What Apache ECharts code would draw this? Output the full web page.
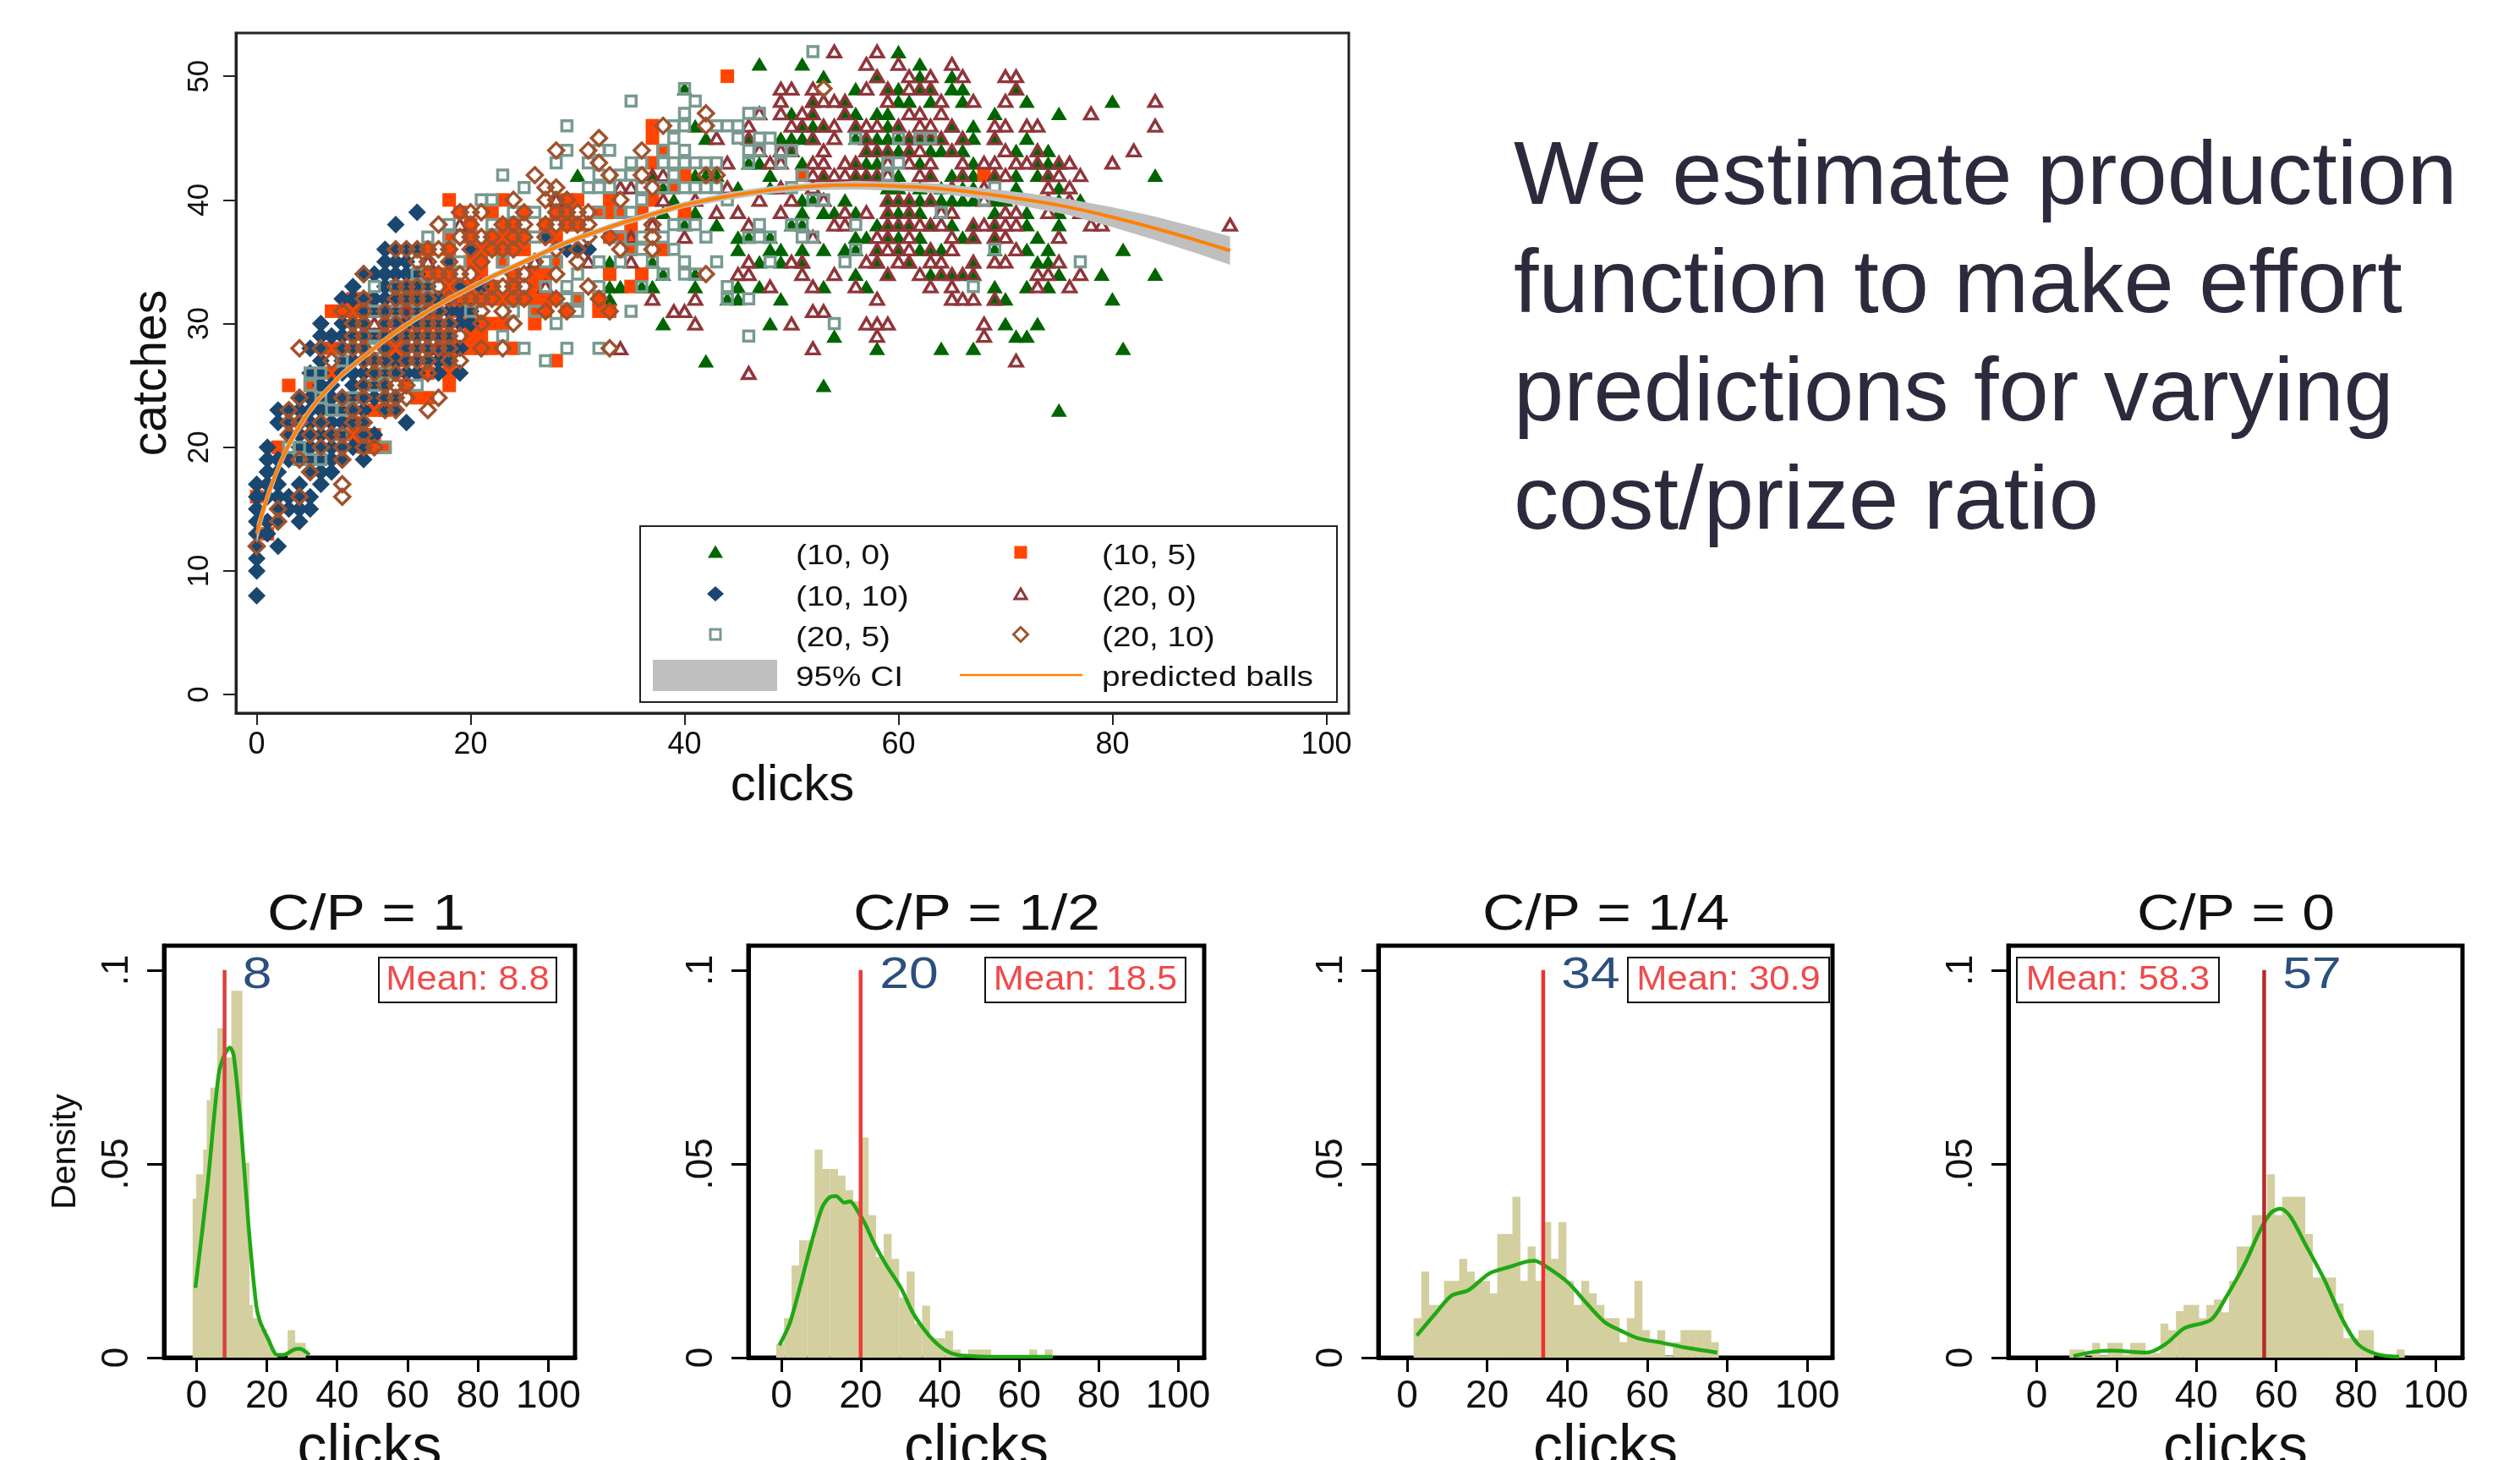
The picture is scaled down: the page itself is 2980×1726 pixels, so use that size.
<!DOCTYPE html>
<html>
<head>
<meta charset="utf-8">
<style>html,body{margin:0;padding:0;background:#fff}#c{width:2980px;height:1726px}</style>
<script src="https://cdn.jsdelivr.net/npm/echarts@6/dist/echarts.min.js"></script>
</head>
<body>
<div id="c"></div>
<script>
// Scatter data: each row is [catches, clicks, clicks, ...]
const rowsGreen = [
[52,60],[51,47,51,62],[50,53,58,62,65],[49,40,56,59,60,62,63,65,66,71],[48,52,55,60,61,63,66,72,80],
[47,50,52,55,56,58,59,69,75],[46,41,51,52,53,56,59,60,65,67],[45,42,46,49,50,51,52,56,57,58,59,60,61,62,63,64,66,67,69,72],
[44,50,57,58,59,60,61,63,64,65,66,71,73,74],[43,46,47,51,56,57,58,62,67,73,74,75],
[42,30,37,41,42,43,48,53,56,57,58,60,63,65,66,67,69,71,73,74,84],[41,38,45,48,59,60,62,64,66,67,71,75],
[40,39,51,52,55,59,60,61,62,63,64,65,66,67,69,70,75,77],[39,38,40,41,51,53,54,56,59,60,61,62,69,72,75],
[38,40,43,50,51,58,59,60,61,63,65,67,69,72,75],[37,45,46,48,56,57,59,60,62,66,67,69,73],
[36,45,48,49,51,53,55,56,58,60,62,63,64,69,72,74,81],[35,33,37,47,49,51,58,61,67,73,74],
[34,38,41,56,59,63,64,65,66,67,75,79,84],[33,33,34,36,37,41,45,47,53,57,69,72,74],[32,33,44,45,49,69,70,80],
[30,38,48,70,73],[29,54,71,72],[28,58,64,67,81],[27,42],[25,53],[23,75]
];
const rowsOrange = [
[50,44],[46,37],[45,37],[44,38],[43,37],[42,40,51,68],[41,39],[40,18,23,29,30,33,37],[39,19,22,25,28,29,32,33,34,36,40],
[38,20,23,24,27,29,30,35],[37,18,20,22,23,24,25,28,33,34,35],[36,16,18,21,22,23,24,25,35,38],[35,20,21,23,28],
[34,16,17,18,21,24,26,27,33,36],[33,15,16,18,19,20,22,24,26,35],[32,9,10,14,15,16,17,18,19,20,21,22,23,24,25,26,27,28,30,32],
[31,7,8,9,10,11,12,16,19,26,27,29,32,33],[30,14,15,16,20,21,22,23,26],[29,11,13,18,20,21],[28,7,13,18,19,20,21,22,24],
[27,13,18,28],[26,7,16,18],[25,3,5,14,18],[24,15,16],[23,11,12],[22,9],[21,9,10,11],[20,2,10,11,12],[16,0],[13,1]
];
const rowsNavy = [
[39,15],[38,13],[37,27],[36,12,13,14,15,20,29,30,31],[35,12,13,14,18],[34,10,11,12,13,14,15],[33,9,12,13,14,15,16,19,21],
[32,8,9,10,11,12,13,14,15,16,17],[31,10,11,12,13,14,15,16,17,18,19,20],[30,6,8,9,10,12,13,14,15,16,17,18,19,20],
[29,6,7,8,9,10,11,12,13,14,15,16,17,18],[28,5,6,8,9,10,12,14,15,16,17,18,19],[27,6,8,9,10,11,12,13,14,15,16,17,18],
[26,5,6,8,9,10,11,12,13,14,15,17,19],[25,6,7,9,10,11,12],[24,4,5,6,7,8,9,10,11,12,13],[23,2,3,4,5,6,7,8,9,10,12,13],
[22,2,3,4,5,6,7,8,9,10,14],[21,3,4,5,6,7,8,10,11],[20,1,4,5,6,7,8,9,10],[19,1,2,3,4,5,6,7,8,10],[18,1,2,5,6,7],
[17,0,1,2,4,6],[16,0,1,2,3,4,5],[15,0,2,3,4,5],[14,0,1,2,4],[13,0,1],[12,0,2],[11,0],[10,0],[8,0]
];
const rowsMaroon = [
[52,54,58],[51,57,60,65],[50,58,61,63,66,70,71],[49,49,50,52,57,59,61,62,63,71],[48,49,52,53,54,55,59,64,67,70,84],
[47,47,49,51,52,55,61,62,64,78],[46,46,50,51,53,54,56,57,58,60,62,63,65,69,70,72,73,84],[45,43,46,52,54,57,61,62,63,64,66,69],
[44,47,49,50,53,57,58,59,61,62,65,70,73,82],[43,44,48,49,52,53,55,56,59,61,63,66,68,69,71,72,73,75,76,80],
[42,37,38,52,53,54,55,56,57,58,59,62,63,66,69,70,74,75,77],[41,34,35,44,49,52,65,68,74,76],[40,28,38,41,47,50,53,59,60,61,63,68,74,76],
[39,43,45,49,55,57,59,61,64,65,70,71,74,77],[38,19,37,46,54,55,59,60,61,62,63,64,67,68,69,70,71,78,79,91],
[37,35,40,52,58,59,61,65,67,69,70,75],[36,58,59,60,61,63,65,71],[35,16,26,31,35,46,50,51,57,58,60,61,63,64,67,69,70,75],
[34,45,46,51,54,59,62,64,65,66,67,73,74,77],[33,27,48,52,56,63,65,73,76],[32,37,41,58,65,66,67,69],[31,14,39,40,52,53],
[30,11,41,50,57,58,59,68],[29,58,68],[28,17,34,52],[27,71],[26,46]
];
const rowsSquare = [
[52,52],[49,40],[48,35,41],[47,40,46,47],[46,29,39,40,43,44,45],[45,39,45,47,48,56,60,62,63],[44,29,32,33,38,40,46,47,49,50],
[43,28,31,35,36,38,39,40,41,42,43,46,49,59,60],[42,23,32,34,35,39,51,59],[41,25,31,32,33,36,38,39,40,41,42,43,50,69],
[40,21,22,36,44,52,53,68],[39,24,26,32,34,35,64],[38,18,22,39,40,41,47,50,51,56],[37,16,18,26,34,36,38,42,46,47,48,51,52],
[36,35,36,39,56,69],[35,19,23,27,28,32,34,37,40,43,48,55,77],[34,15,30,38,40,41],[33,11,13,16,27,29,32,36,44,67],[32,29,30,44,46],
[31,11,13,15,20,24,26,30,35],[30,28,54],[29,11,23,46],[28,11,25,29,32],[27,8,27],[26,5,6,12],[25,5,11,15],[24,6,9],[23,7,8],[21,8],[20,3,4,12],[19,4,5,6]
];
const rowsDiamond = [
[49,53],[47,42],[46,38,42],[45,32],[44,28,31,36],[43,32],[42,26,33,36,42,43],[41,27,28,37],[40,24,27,28,29,34],
[39,19,20,21,25,28,29,30,31],[38,17,20,23,24,25,27,28,29,30,31,37],[37,19,20,21,22,24,25,27,31,33,37],
[36,13,14,15,16,17,18,20,22,23,24,28,30,34,37],[35,15,16,18,21,26,30],[34,10,16,17,18,19,20,24,25,28,42],
[33,13,14,15,17,19,22,23,24,25,31],[32,10,13,14,15,16,18,19,20,21,22,24,25,28,32],[31,8,10,12,14,16,17,21,23,27,29,33],
[30,9,10,12,13,15,16,17,18,21,24],[29,9,10,12,13,14,15,16,17,18,19],[28,4,6,8,9,10,12,14,15,16,17,18,21,23,33],
[27,7,10,11,12,14,15,16,18,19],[26,11,13,16],[25,10,12,13,14],[24,4,8,10,12,13,14,17],[23,3,9,12,13,16],[22,3,4,6,9,10],
[21,3,5,7,8,10],[20,6,8,10,11],[19,4,8],[18,5],[17,8],[16,4,8],[15,2],[14,2],[12,0]
];
// Fitted curve and 95% CI
const fitClicks = [0,1,2,3,4,5,6,7,8,10,12,14,16,18,20,22,24,26,28,30,32,34,36,38,40,44,48,52,56,60,64,68,72,76,80,84,88,91];
const fitBalls = [13,16,18.3,20.2,21.7,23,24.1,25,25.9,27.3,28.7,29.9,31,32,32.9,33.8,34.6,35.4,36.2,36.9,37.5,38.1,38.6,39.1,39.6,40.3,40.8,41.1,41.2,41.1,40.9,40.5,40,39.4,38.6,37.7,36.7,35.9];
const ciLow = [12.2,15.4,17.8,19.75,21.3,22.65,23.8,24.7,25.6,27.05,28.45,29.65,30.75,31.75,32.65,33.55,34.35,35.15,35.95,36.65,37.25,37.85,38.35,38.85,39.35,40,40.5,40.8,40.85,40.75,40.5,40.05,39.45,38.75,37.8,36.75,35.65,34.75];
const ciHigh = [13.8,16.6,18.8,20.65,22.1,23.35,24.4,25.3,26.2,27.55,28.95,30.15,31.25,32.25,33.15,34.05,34.85,35.65,36.45,37.15,37.75,38.35,38.85,39.35,39.85,40.6,41.1,41.4,41.55,41.45,41.3,40.95,40.55,40.05,39.4,38.65,37.75,37.05];
// Histogram panels
const hist1X = [-0.5,0.5,1.5,2.5,3.5,4.5,5.5,6.5,7.5,8.5,9.5,10.5,11.5,12.5,13.5,14.5,15.5,16.5,17.5,18.5,19.5,20.5,21.5,22.5,23.5,24.5,25.5,26.5,27.5,28.5,29.5,30.5];
const hist1Y = [.041,.0473,.0473,.0537,.0664,.0697,.0697,.085,.085,.0775,.0775,.0947,.0947,.0947,.0503,.0503,.0136,.0102,.0102,.0074,.0074,.004,.002,.001,0,0,0,.0071,.0071,.0038,.0038,.0038];
const kde1X = [-0.3,3.1,6.3,7.9,9.5,10.6,12.7,14.9,17,18.1,20.3,23,24.6,27.8,29.4,32.1];
const kde1Y = [.018,.044,.073,.078,.08,.078,.059,.033,.0135,.0093,.005,.0007,.0007,.0021,.0023,.0007];
const hist2X = [-0.3,1.7,3.6,5.5,7.5,9.4,11.3,13.3,15.2,17.1,19,21,22.9,24.9,26.8,28.7,30.7,32.6,34.5,36.5,38.4,40.3,42.3,44.2,46.1,48.1,50,51.9,63.5,67.4];
const hist2Y = [.0035,.0102,.0238,.0303,.0303,.0537,.0487,.0487,.047,.0432,.0403,.0568,.0368,.026,.0319,.0255,.0155,.0222,.0088,.0134,.005,.005,.0069,.0021,.0007,.0021,.0021,.0021,.0021,.0021];
const kde2X = [-0.5,2.1,4.5,7.4,10.2,12.1,13.8,15.9,17.3,19.2,21.1,23.5,26.4,30.2,33.1,35.9,38.7,41.5,44.4,48.2,54.9,68.3];
const kde2Y = [.0032,.0088,.0174,.0289,.0385,.0413,.0417,.04,.0403,.0379,.0346,.0293,.024,.0179,.0117,.0074,.0041,.0018,.0007,.0004,.0002,.0002];
const hist3X = [2.6,4.5,6.4,8.3,10.2,12.1,14,15.9,17.8,19.7,21.6,23.5,25.4,27.3,29.2,31.1,33,35,36.9,38.8,40.7,42.6,44.5,46.4,48.3,50.2,52.1,54,55.9,57.8,59.7,61.6,63.5,65.4,67.4,69.3,71.2,73.1,75,76.9];
const hist3Y = [.0102,.0222,.0136,.0136,.0198,.0198,.0255,.0222,.0198,.0198,.0166,.0319,.0319,.0415,.0198,.0287,.0198,.035,.0255,.035,.0198,.0136,.0198,.0166,.0136,.0102,.0102,.004,.0102,.0198,.0071,.004,.0071,.0005,.004,.0071,.0071,.0071,.0071,.004];
const kde3X = [2.4,7.3,11.1,15.3,20.5,25.2,29.9,31.8,34.6,40.3,44,49.2,53.5,57.7,63.9,69.5,77.5];
const kde3Y = [.0057,.0117,.016,.0174,.0217,.0233,.0248,.025,.0236,.0193,.015,.0093,.0069,.005,.0038,.0026,.0013];
const hist4X = [9.2,11.1,13,14.9,16.8,18.7,20.6,22.5,24.4,26.3,28.2,30.1,32,33.9,35.9,37.8,39.7,41.6,43.5,45.4,47.3,49.2,51.1,53,54.9,56.8,58.7,60.6,62.5,64.4,66.3,68.2,70.1,72,74,75.9,77.8,79.7,81.6,83.5,91.2];
const hist4Y = [.0021,.0021,.0002,.0038,.0005,.0038,.0038,.0008,.0038,.0038,.0008,.0012,.0088,.0071,.012,.0136,.0136,.0102,.0136,.015,.0117,.0198,.0287,.0287,.0368,.0368,.0473,.0368,.0415,.0415,.0415,.0319,.0207,.0207,.0207,.014,.005,.005,.0071,.0071,.0021];
const kde4X = [9.2,14.3,19.1,27.6,32.3,37,43.6,47.4,52.1,55.9,58.7,61.1,63.5,67.3,72,76.7,80.5,85.2,90.8];
const kde4Y = [.0004,.0015,.0018,.0013,.0035,.0076,.0097,.0155,.0241,.0327,.0374,.0384,.0365,.0293,.0203,.0097,.0035,.0009,.0002];
const modeValues = [8,20,34,57];
const panelTitles = ['C/P = 1','C/P = 1/2','C/P = 1/4','C/P = 0'];
const meanLabels = ['Mean: 8.8','Mean: 18.5','Mean: 30.9','Mean: 58.3'];
const seriesNames = ['(10, 0)','(10, 5)','(10, 10)','(20, 0)','(20, 5)','(20, 10)'];
const mainXTicks = [0,20,40,60,80,100];
const mainYTicks = [0,10,20,30,40,50];
const panelXTicks = [0,20,40,60,80,100];
const panelYTicks = [0,.05,.1];
const headline = 'We estimate production\nfunction to make effort\npredictions for varying\ncost/prize ratio';

const FONT = 'Liberation Sans';
const C = {green:'#006400',orange:'#ff4500',navy:'#1a476f',maroon:'#90353b',square:'#789a90',diamond:'#a0522d',ci:'#bfbfbf',fit:'#ff8005',
  hist:'#d3cf9f',kde:'#20a814',blue:'#2b4f7e',mean:'#f04a4a'};
const expand = rows => rows.flatMap(r => r.slice(1).map(x => [x, r[0]]));
const zip = (a,b) => a.map((v,i) => [v,b[i]]);

const grids=[], xAxes=[], yAxes=[], series=[], graphic=[];

// main plot
grids.push({left:279,top:39,width:1316,height:804,show:true,borderColor:'#222',borderWidth:3,backgroundColor:'#fff',outerBoundsMode:'none'});
xAxes.push({type:'value',gridIndex:0,min:-1.94,max:102.1,splitLine:{show:false},
  axisLine:{onZero:false,lineStyle:{color:'#222',width:3}},
  axisTick:{length:14,customValues:mainXTicks,lineStyle:{color:'#222',width:2}},
  axisLabel:{customValues:mainXTicks,fontFamily:FONT,fontSize:36,color:'#111',margin:20},
  name:'clicks',nameLocation:'middle',nameGap:72,nameTextStyle:{fontFamily:FONT,fontSize:60,color:'#111',verticalAlign:'middle'}});
yAxes.push({type:'value',gridIndex:0,min:-1.5,max:53.5,splitLine:{show:false},
  axisLine:{onZero:false,lineStyle:{color:'#222',width:3}},
  axisTick:{length:15,customValues:mainYTicks,lineStyle:{color:'#222',width:2}},
  axisLabel:{customValues:mainYTicks,rotate:90,fontFamily:FONT,fontSize:35,color:'#111',margin:25},
  name:'catches',nameLocation:'middle',nameGap:99,nameRotate:90,nameTextStyle:{fontFamily:FONT,fontSize:57,color:'#111',verticalAlign:'middle'}});

const scat=(name,rows,symbol,size,filled,color)=>({type:'scatter',name,xAxisIndex:0,yAxisIndex:0,data:expand(rows),symbol,symbolSize:size,animation:false,
  itemStyle:filled?{color,opacity:1}:{color:'rgba(0,0,0,0)',borderColor:color,borderWidth:3.5,opacity:1}});
series.push(
  scat(seriesNames[0],rowsGreen,'triangle',[19,16],true,C.green),
  scat(seriesNames[1],rowsOrange,'rect',[16,16],true,C.orange),
  scat(seriesNames[2],rowsNavy,'diamond',[21,21],true,C.navy),
  scat(seriesNames[3],rowsMaroon,'triangle',[15,13],false,C.maroon),
  scat(seriesNames[4],rowsSquare,'rect',[12,12],false,C.square),
  scat(seriesNames[5],rowsDiamond,'diamond',[18,18],false,C.diamond),
  {type:'custom',name:'95% CI',xAxisIndex:0,yAxisIndex:0,data:fitClicks.map((x,i)=>[x,ciLow[i],ciHigh[i]]),encode:{x:0,y:[1,2]},animation:false,z:3,
    renderItem:(params,api)=>{
      if(params.dataIndex!==0) return null;
      const up=fitClicks.map((x,i)=>api.coord([x,ciHigh[i]]));
      const dn=fitClicks.map((x,i)=>api.coord([x,ciLow[i]])).reverse();
      return {type:'polygon',shape:{points:up.concat(dn)},style:{fill:C.ci}};
    }},
  {type:'line',name:'predicted balls',xAxisIndex:0,yAxisIndex:0,data:zip(fitClicks,fitBalls),symbol:'none',smooth:.5,lineStyle:{color:C.fit,width:4},animation:false,z:4}
);

// bottom panels
const panels=[
 {l:194,r:680,xmin:-9.2,xmax:107.6,hx:hist1X,hy:hist1Y,kx:kde1X,ky:kde1Y,bw:4.8,red:'#dc4040',tx:433,mx0:448,mx1:658,nx:304,yname:'Density'},
 {l:885,r:1424,xmin:-8.3,xmax:106.6,hx:hist2X,hy:hist2Y,kx:kde2X,ky:kde2Y,bw:9.4,red:'#ee3b3b',tx:1155,mx0:1165,mx1:1402,nx:1075},
 {l:1630,r:2167,xmin:-7.2,xmax:106.3,hx:hist3X,hy:hist3Y,kx:kde3X,ky:kde3Y,bw:9.4,red:'#f03030',tx:1899,mx0:1925,mx1:2163,nx:1881},
 {l:2375,r:2912,xmin:-7.1,xmax:106.7,hx:hist4X,hy:hist4Y,kx:kde4X,ky:kde4Y,bw:9.4,red:'#b82a2a',tx:2644,mx0:2385,mx1:2624,nx:2734}
];
panels.forEach((p,i)=>{
  const gi=i+1;
  grids.push({left:p.l,top:1118,width:p.r-p.l,height:487,show:true,borderColor:'#000',borderWidth:5,backgroundColor:'#fff',outerBoundsMode:'none'});
  xAxes.push({type:'value',gridIndex:gi,min:p.xmin,max:p.xmax,splitLine:{show:false},
    axisLine:{onZero:false,lineStyle:{color:'#000',width:5}},
    axisTick:{length:17,customValues:panelXTicks,lineStyle:{color:'#000',width:3}},
    axisLabel:{customValues:panelXTicks,fontFamily:FONT,fontSize:46,color:'#111',margin:23,hideOverlap:false},
    name:'clicks',nameLocation:'middle',nameGap:109,nameTextStyle:{fontFamily:FONT,fontSize:70,color:'#111',verticalAlign:'middle'}});
  yAxes.push({type:'value',gridIndex:gi,min:0,max:.1063,splitLine:{show:false},
    axisLine:{onZero:false,lineStyle:{color:'#000',width:5}},
    axisTick:{length:20,customValues:panelYTicks,lineStyle:{color:'#000',width:3}},
    axisLabel:{customValues:panelYTicks,rotate:90,fontFamily:FONT,fontSize:44,color:'#111',margin:33,
      formatter:v=>v===0?'0':String(v).replace(/^0/,'')},
    name:p.yname||'',nameLocation:'middle',nameGap:116,nameRotate:90,nameTextStyle:{fontFamily:FONT,fontSize:41,color:'#111',verticalAlign:'middle'}});
  series.push(
    {type:'bar',xAxisIndex:gi,yAxisIndex:gi,data:zip(p.hx,p.hy),barWidth:p.bw,itemStyle:{color:C.hist},animation:false,z:2},
    {type:'line',xAxisIndex:gi,yAxisIndex:gi,data:zip(p.kx,p.ky),symbol:'none',smooth:.3,lineStyle:{color:C.kde,width:4.5},animation:false,z:3},
    {type:'line',xAxisIndex:gi,yAxisIndex:gi,data:[[modeValues[i],0],[modeValues[i],.1]],symbol:'none',lineStyle:{color:p.red,width:4.5},animation:false,z:4}
  );
  graphic.push({type:'text',z:50,x:p.tx,y:1082,scaleX:1.16,style:{text:panelTitles[i],fontFamily:FONT,fontSize:60,fill:'#111',align:'center',verticalAlign:'middle'}});
  graphic.push({type:'rect',z:50,shape:{x:p.mx0,y:1132,width:p.mx1-p.mx0,height:53},style:{fill:'rgba(0,0,0,0)',stroke:'#111',lineWidth:2}});
  graphic.push({type:'text',z:51,x:(p.mx0+p.mx1)/2,y:1159,scaleX:1.06,style:{text:meanLabels[i],fontFamily:FONT,fontSize:41,fill:C.mean,align:'center',verticalAlign:'middle'}});
  graphic.push({type:'text',z:51,x:p.nx,y:1154,scaleX:1.2,style:{text:String(modeValues[i]),fontFamily:FONT,fontSize:52,fill:C.blue,align:'center',verticalAlign:'middle'}});
});

// legend box
graphic.push({type:'rect',z:50,shape:{x:757,y:622,width:824,height:208},style:{fill:'#fff',stroke:'#222',lineWidth:2}});
const lt=(t,x,y)=>({type:'text',z:52,x,y,scaleX:1.14,style:{text:t,fontFamily:FONT,fontSize:34,fill:'#111',align:'left',verticalAlign:'middle'}});
[[seriesNames[0],941,658],[seriesNames[2],941,707],[seriesNames[4],941,755],['95% CI',941,802],
 [seriesNames[1],1303,658],[seriesNames[3],1303,707],[seriesNames[5],1303,755],['predicted balls',1303,802]].forEach(a=>graphic.push(lt(a[0],a[1],a[2])));
const tri=(cx,cy,w,h)=>[[cx-w/2,cy+h/2],[cx+w/2,cy+h/2],[cx,cy-h/2]];
const dia=(cx,cy,w,h)=>[[cx-w/2,cy],[cx,cy-h/2],[cx+w/2,cy],[cx,cy+h/2]];
graphic.push(
 {type:'polygon',z:52,shape:{points:tri(846,652,18,15)},style:{fill:C.green}},
 {type:'polygon',z:52,shape:{points:dia(846,702,20,18)},style:{fill:C.navy}},
 {type:'rect',z:52,shape:{x:840,y:744,width:12,height:12},style:{fill:'#fff',stroke:C.square,lineWidth:3}},
 {type:'rect',z:52,shape:{x:772,y:780,width:147,height:37},style:{fill:C.ci}},
 {type:'rect',z:52,shape:{x:1199.5,y:645.5,width:15,height:15},style:{fill:C.orange}},
 {type:'polygon',z:52,shape:{points:tri(1207,702,14,12)},style:{fill:'#fff',stroke:C.maroon,lineWidth:3}},
 {type:'polygon',z:52,shape:{points:dia(1207,750,17,17)},style:{fill:'#fff',stroke:C.diamond,lineWidth:3}},
 {type:'line',z:52,shape:{x1:1135,y1:798,x2:1280,y2:798},style:{stroke:C.fit,lineWidth:2.5}}
);

const chart=echarts.init(document.getElementById('c'),null,{renderer:'canvas'});
chart.setOption({
  backgroundColor:'#fff',animation:false,
  title:{text:headline,left:1785,top:143,textStyle:{fontFamily:FONT,fontSize:106.4,fontWeight:'normal',color:'#2b2b3d',lineHeight:128}},
  grid:grids,xAxis:xAxes,yAxis:yAxes,series,graphic:{elements:graphic}
});
</script>
</body>
</html>
